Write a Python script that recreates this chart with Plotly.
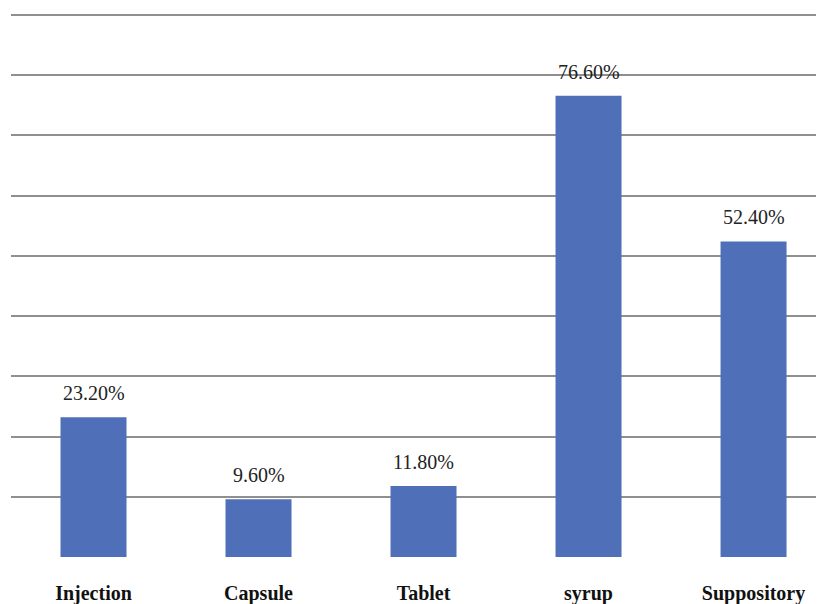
import plotly.graph_objects as go

categories = ["Injection", "Capsule", "Tablet", "syrup", "Suppository"]
values = [23.2, 9.6, 11.8, 76.6, 52.4]
value_labels = ["23.20%", "9.60%", "11.80%", "76.60%", "52.40%"]

SERIF = "Liberation Serif, Times New Roman, DejaVu Serif, serif"

fig = go.Figure()
fig.add_trace(go.Bar(
    x=categories, y=values,
    marker=dict(color="#4F70B8", line=dict(width=0)),
    hoverinfo="skip",
))

for c, v, t in zip(categories, values, value_labels):
    fig.add_annotation(x=c, y=v, text=t, showarrow=False, yanchor="bottom",
                       yshift=11, font=dict(family=SERIF, size=20, color="#222222"))

fig.update_layout(
    width=816, height=596,
    margin=dict(l=3, r=0, t=1, b=47),
    paper_bgcolor="white", plot_bgcolor="white",
    font=dict(family=SERIF),
    bargap=0.6, showlegend=False,
    xaxis=dict(range=[-0.5, 4.427], showgrid=False, showline=False, zeroline=False,
               ticks="", tickfont=dict(family=SERIF, size=20, color="#111111",
                                       weight="bold"),
               ticklabelstandoff=22),
    yaxis=dict(range=[0, 91], dtick=10, showgrid=True, gridcolor="#8f8f8f", gridwidth=2,
               zeroline=False, showticklabels=False, showline=False),
)

fig.write_html("out.html")
